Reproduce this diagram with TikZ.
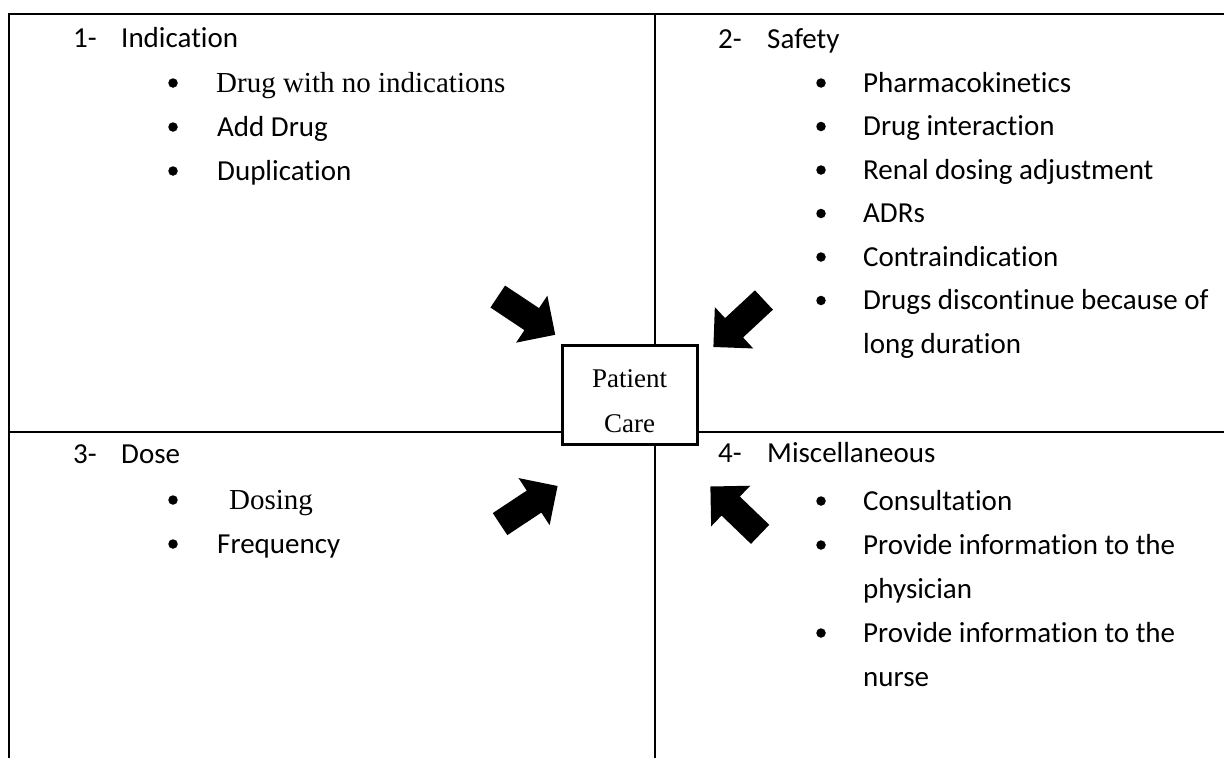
\documentclass[tikz,border=0pt]{standalone}
\usepackage{fontspec}
\setmainfont{Carlito}[RawFeature={-liga;-clig;-calt;-dlig}]
\newfontfamily\tnr{Liberation Serif}
\usetikzlibrary{shapes.arrows}
\begin{document}
\begin{tikzpicture}[x=1pt,y=-1pt,
  txt/.style={anchor=base west, inner sep=0pt, font=\fontsize{29}{35}\selectfont},
  ser/.style={anchor=base west, inner sep=0pt, font=\tnr\fontsize{29}{35}\selectfont},
  bul/.style={circle, fill=black, inner sep=0pt, minimum size=9.5pt},
  gridline/.style={line width=2pt, line join=miter},
  blk/.style={single arrow, fill=black, draw=none, inner xsep=0pt, inner ysep=13pt,
    single arrow head extend=15pt, minimum height=69pt, single arrow tip angle=90},
]
\useasboundingbox (0,0) rectangle (1224,758);
\fill[white] (0,0) rectangle (1224,758);
% frame and quadrant lines
\draw[gridline] (9,758) -- (9,14) -- (1224,14);
\draw[gridline] (655,14) -- (655,758);
\draw[gridline] (9,432) -- (1224,432);

% Quadrant 1
\node[txt] (h1n) at (73,47) {1-};
\node[txt] (h1) at (121,47) {Indication};
\node[bul] (b11) at (173,83) {};
\node[ser] (t11) at (216,92) {Drug with no indications};
\node[bul] (b12) at (173,127) {};
\node[txt] (t12) at (217,136) {Add Drug};
\node[bul] (b13) at (173,171) {};
\node[txt] (t13) at (217,180) {Duplication};

% Quadrant 2
\node[txt] (h2n) at (718,48) {2-};
\node[txt] (h2) at (767,48) {Safety};
\node[bul] (b21) at (821,83) {};
\node[txt] (t21) at (863,92) {Pharmacokinetics};
\node[bul] (b22) at (821,126.5) {};
\node[txt] (t22) at (863,135.5) {Drug interaction};
\node[bul] (b23) at (821,170) {};
\node[txt] (t23) at (863,179) {Renal dosing adjustment};
\node[bul] (b24) at (821,213.5) {};
\node[txt] (t24) at (863,222.5) {ADRs};
\node[bul] (b25) at (821,257) {};
\node[txt] (t25) at (863,266) {Contraindication};
\node[bul] (b26) at (821,300.5) {};
\node[txt] (t26) at (863,309.5) {Drugs discontinue because of};
\node[txt] (t26b) at (863,353) {long duration};

% Quadrant 3
\node[txt] (h3n) at (73,463) {3-};
\node[txt] (h3) at (121,463) {Dose};
\node[bul] (b31) at (173,500) {};
\node[ser] (t31) at (229,509) {Dosing};
\node[bul] (b32) at (173,544) {};
\node[txt] (t32) at (217,553) {Frequency};

% Quadrant 4
\node[txt] (h4n) at (718,462) {4-};
\node[txt] (h4) at (767,462) {Miscellaneous};
\node[bul] (b41) at (821,501) {};
\node[txt] (t41) at (863,510) {Consultation};
\node[bul] (b42) at (821,545) {};
\node[txt] (t42) at (863,554) {Provide information to the};
\node[txt] (t42b) at (863,598) {physician};
\node[bul] (b43) at (821,633) {};
\node[txt] (t43) at (863,642) {Provide information to the};
\node[txt] (t43b) at (863,686) {nurse};

% centre box
\node[draw, line width=3pt, fill=white, minimum width=135pt, minimum height=99pt, inner sep=0pt] (pc) at (629.5,394.5) {};
\node[anchor=base, inner sep=0pt, font=\tnr\fontsize{27}{32}\selectfont] (pc1) at (629.5,387) {Patient};
\node[anchor=base, inner sep=0pt, font=\tnr\fontsize{27}{32}\selectfont] (pc2) at (629.5,432) {Care};

% block arrows
\node[blk, rotate=-33.6] (a1) at (521,312) {};
\node[blk, rotate=-137.1] (a2) at (743.5,319) {};
\node[blk, rotate=33.5] (a3) at (523.3,508.7) {};
\node[blk, rotate=136.1] (a4) at (740,515) {};
\end{tikzpicture}
\end{document}
